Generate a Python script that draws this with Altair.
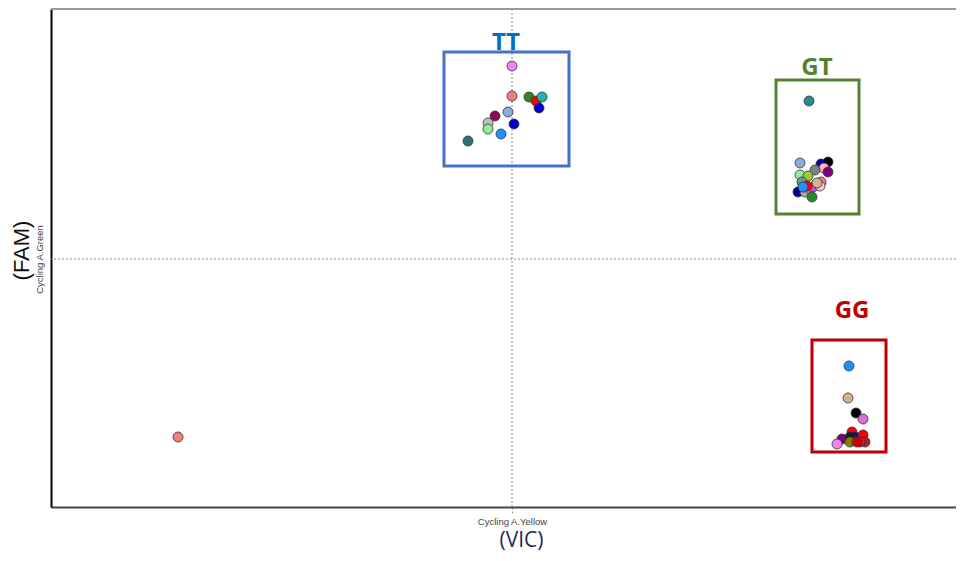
import altair as alt
import pandas as pd

# Scatter data (arbitrary fluorescence units)
tt_x = [461, 461, 478, 485, 491, 488, 457, 444, 463, 437, 437, 450, 417]
tt_y = [441, 411, 410, 406, 410, 399, 395, 391, 383, 384, 378, 373, 366]
tt_c = ["#EE82EE", "#F08080", "#228B22", "#FF0000", "#20B2AA", "#0000CD", "#8DA9DB",
        "#8B0A50", "#0000CD", "#C0C0C0", "#90EE90", "#1E90FF", "#2F6F6F"]

gt_x = [758, 749, 770, 777, 773, 777, 764, 749, 757, 770, 751, 747, 754, 759, 762, 761, 769, 756, 766, 752]
gt_y = [406, 344, 343, 345, 339, 335, 337, 332, 331, 325, 325, 315, 315, 318, 320, 310, 321, 321, 324, 320]
gt_c = ["#2E8B8B", "#8DA9DB", "#0000CD", "#000000", "#FFB6C1", "#800080", "#808080", "#90EE90",
        "#9ACD32", "#F08080", "#5F9EA0", "#00008B", "#A9A9A9", "#DA70D6", "#BA55D3", "#228B22",
        "#FFC0CB", "#FF0000", "#D2B48C", "#1E90FF"]

gg_x = [798, 797, 805, 812, 791, 786, 801, 804, 812, 814, 809, 799, 799, 806]
gg_y = [141, 109, 94, 88, 68, 63, 75, 70, 72, 65, 65, 70, 65, 65]
gg_c = ["#1E90FF", "#D2B48C", "#000000", "#DA70D6", "#800080", "#EE82EE", "#FF0000", "#0000CD",
        "#FF0000", "#B22222", "#DC143C", "#1A1A1A", "#808000", "#CD0000"]

out_x = [127]
out_y = [70]
out_c = ["#F08080"]

box_labels = ["TT", "GT", "GG"]
box_x1 = [393, 725, 761]
box_x2 = [518, 808, 835]
box_y1 = [341, 293, 55]
box_y2 = [455, 427, 167]
box_colors = ["#4472C4", "#548235", "#C00000"]
label_x = [455, 766, 801]
label_y = [464, 439, 196]
label_colors = ["#0070C0", "#538135", "#C00000"]

x_threshold = 461
y_threshold = 248
x_max = 905
y_max = 498

pts = pd.DataFrame({
    "x": tt_x + gt_x + gg_x + out_x,
    "y": tt_y + gt_y + gg_y + out_y,
    "c": tt_c + gt_c + gg_c + out_c,
})
boxes = pd.DataFrame({"label": box_labels, "x1": box_x1, "x2": box_x2, "y1": box_y1, "y2": box_y2,
                      "color": box_colors, "lx": label_x, "ly": label_y, "lc": label_colors})

xs = alt.Scale(domain=[0, x_max], nice=False, zero=False)
ys = alt.Scale(domain=[0, y_max], nice=False, zero=False)

xaxis = alt.Axis(values=[x_threshold], labelExpr="'Cycling A.Yellow'", grid=False,
                 domainColor="#444444", domainWidth=2, tickColor="#999999", tickSize=6,
                 tickDash=[2, 2], labelFontSize=9.5, labelColor="#444444", labelFont="Liberation Sans",
                 labelPadding=3, title="(VIC)", titleFontSize=21, titleFont="Open Sans",
                 titleFontWeight="normal", titleColor="#1F2A55", titlePadding=4, titleX=470)
yaxis = alt.Axis(values=[y_threshold], labelExpr="'Cycling A.Green'", grid=False,
                 domainColor="#000000", domainWidth=2, ticks=False, labelAngle=270,
                 labelAlign="center", labelBaseline="bottom", labelFontSize=9.5,
                 labelColor="#444444", labelFont="Liberation Sans", labelPadding=7,
                 title="(FAM)", titleFontSize=22, titleFont="Liberation Sans", titleFontWeight="normal",
                 titleColor="#111111", titlePadding=1, titleY=241)

base = alt.Chart(pts)

vline = alt.Chart(pd.DataFrame({"x": [x_threshold]})).mark_rule(
    color="#888888", strokeDash=[2, 2], strokeWidth=1).encode(x=alt.X("x:Q", scale=xs, axis=xaxis))
hline = alt.Chart(pd.DataFrame({"y": [y_threshold]})).mark_rule(
    color="#888888", strokeDash=[2, 2], strokeWidth=1).encode(y=alt.Y("y:Q", scale=ys, axis=yaxis))
top = alt.Chart(pd.DataFrame({"y": [y_max]})).mark_rule(
    color="#999999", strokeWidth=2).encode(y=alt.Y("y:Q", scale=ys))

rects = alt.Chart(boxes).mark_rect(fill=None, strokeWidth=3).encode(
    x=alt.X("x1:Q", scale=xs), x2="x2", y=alt.Y("y1:Q", scale=ys), y2="y2",
    stroke=alt.Stroke("color:N", scale=None))
labels = alt.Chart(boxes).mark_text(fontSize=24, fontWeight="bold", font="Open Sans").encode(
    x=alt.X("lx:Q", scale=xs), y=alt.Y("ly:Q", scale=ys), text="label:N",
    color=alt.Color("lc:N", scale=None))

points = base.mark_point(filled=True, shape="circle", size=100, stroke="#333333",
                         strokeWidth=0.8, opacity=1).encode(
    x=alt.X("x:Q", scale=xs), y=alt.Y("y:Q", scale=ys),
    fill=alt.Fill("c:N", scale=None))

chart = alt.layer(vline, hline, top, rects, labels, points).properties(
    width=905, height=498,
    autosize=alt.AutoSizeParams(type="none"),
    padding={"left": 43, "top": 1, "right": 0, "bottom": 48},
).configure_view(stroke=None).configure(background="white")

chart.save("out.html", embed_options={"renderer": "svg", "actions": False})
